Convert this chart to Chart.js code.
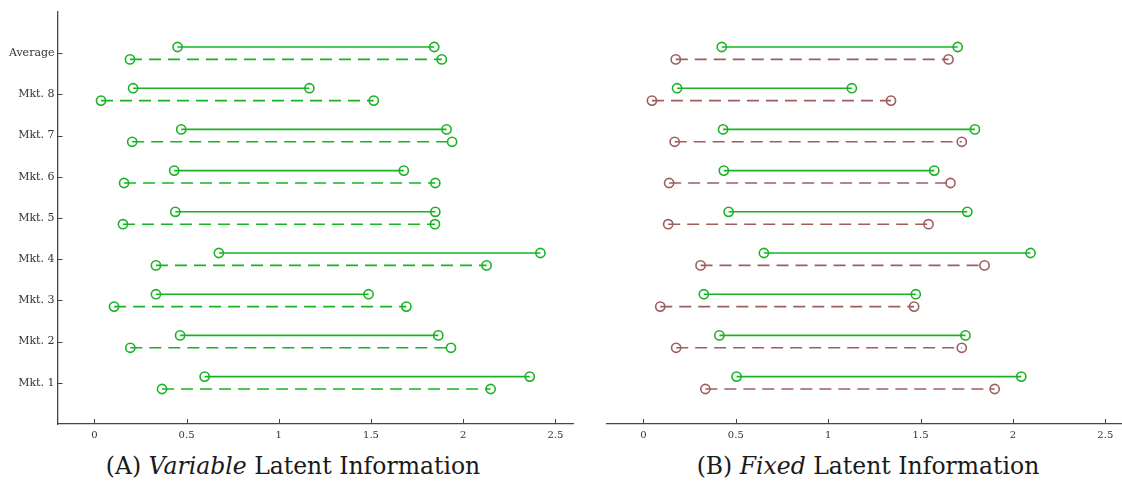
<!DOCTYPE html>
<html><head><meta charset="utf-8">
<script src="https://cdn.jsdelivr.net/npm/chart.js@4/dist/chart.umd.min.js"></script>
<style>
html,body{margin:0;padding:0;background:#fff;width:1122px;height:481px;overflow:hidden;position:relative}
#a{position:absolute;left:0;top:0}
#b{position:absolute;left:590px;top:0}
.cap{position:absolute;top:452px;font-family:"DejaVu Serif",serif;font-size:23.5px;color:#1a1a1a;text-align:center;white-space:nowrap;line-height:28px}
</style></head><body>
<canvas id="a" width="580" height="446"></canvas>
<canvas id="b" width="540" height="446"></canvas>
<div class="cap" style="left:0;width:586px">(A) <i>Variable</i> Latent Information</div>
<div class="cap" style="left:580px;width:576px">(B) <i>Fixed</i> Latent Information</div>
<script>
const categories = ['Mkt. 1','Mkt. 2','Mkt. 3','Mkt. 4','Mkt. 5','Mkt. 6','Mkt. 7','Mkt. 8','Average'];
const xTicks = [0, 0.5, 1, 1.5, 2, 2.5];
const xTickLabels = ['0', '0.5', '1', '1.5', '2', '2.5'];

// Panel A: Variable latent information
const varSolidStart = [0.598, 0.465, 0.334, 0.675, 0.439, 0.433, 0.471, 0.210, 0.451];
const varSolidEnd   = [2.361, 1.865, 1.487, 2.419, 1.849, 1.678, 1.910, 1.166, 1.843];
const varDashStart  = [0.367, 0.195, 0.107, 0.334, 0.155, 0.161, 0.205, 0.036, 0.193];
const varDashEnd    = [2.149, 1.934, 1.692, 2.127, 1.847, 1.849, 1.940, 1.515, 1.884];

// Panel B: Fixed latent information
const fixSolidStart = [0.504, 0.411, 0.327, 0.652, 0.461, 0.435, 0.431, 0.182, 0.424];
const fixSolidEnd   = [2.045, 1.743, 1.474, 2.095, 1.753, 1.574, 1.794, 1.128, 1.701];
const fixDashStart  = [0.335, 0.177, 0.091, 0.309, 0.134, 0.139, 0.169, 0.046, 0.175];
const fixDashEnd    = [1.901, 1.723, 1.465, 1.846, 1.543, 1.662, 1.723, 1.340, 1.651];

const GREEN = 'rgb(24,180,36)';
const BROWN = 'rgb(158,94,94)';
const AXIS = '#454545';

Chart.defaults.font.family = '"DejaVu Serif", serif';
Chart.defaults.font.size = 10;
Chart.defaults.color = '#333';

function dumbbells(starts, ends, offset, color, dash) {
  return categories.map((c, i) => ({
    label: c,
    data: [{x: starts[i], y: i + 1 + offset}, {x: ends[i], y: i + 1 + offset}],
    showLine: true,
    borderColor: color,
    borderWidth: 1.6,
    borderDash: dash,
    pointRadius: 4.6,
    pointBorderWidth: 1.6,
    pointBorderColor: color,
    pointBackgroundColor: 'rgba(0,0,0,0)',
    pointStyle: 'circle'
  }));
}

const insideTicks = {
  id: 'insideTicks',
  afterDraw(chart) {
    const ctx = chart.ctx, sx = chart.scales.x, sy = chart.scales.y, a = chart.chartArea;
    ctx.save();
    ctx.strokeStyle = AXIS;
    ctx.lineWidth = 1;
    ctx.setLineDash([]);
    xTicks.forEach(v => {
      const px = Math.round(sx.getPixelForValue(v)) + 0.5;
      ctx.beginPath(); ctx.moveTo(px, a.bottom); ctx.lineTo(px, a.bottom - 5); ctx.stroke();
    });
    if (chart.options.scales.y.display) {
      categories.forEach((c, i) => {
        const py = Math.round(sy.getPixelForValue(i + 1)) + 0.5;
        ctx.beginPath(); ctx.moveTo(a.left, py); ctx.lineTo(a.left + 5, py); ctx.stroke();
      });
    }
    ctx.restore();
  }
};

function makeChart(id, datasets, showY, padLeft, padRight) {
  return new Chart(document.getElementById(id), {
    type: 'scatter',
    data: {datasets},
    plugins: [insideTicks],
    options: {
      responsive: false,
      animation: false,
      layout: {padding: {top: 12, right: padRight, left: padLeft, bottom: 0}},
      plugins: {legend: {display: false}, tooltip: {enabled: false}},
      scales: {
        x: {
          type: 'linear', min: -0.2, max: 2.6,
          afterBuildTicks: s => { s.ticks = xTicks.map(v => ({value: v})); },
          afterFit: s => { s.height = 22; s.paddingLeft = 0; s.paddingRight = 0; },
          ticks: {padding: 5, font: {size: 10}, color: '#333',
                  callback: (v) => xTickLabels[xTicks.indexOf(v)]},
          grid: {display: false, drawTicks: false},
          border: {display: true, color: AXIS, width: 1.3}
        },
        y: {
          type: 'linear', min: 0, max: 10, display: showY,
          afterBuildTicks: s => { s.ticks = categories.map((c, i) => ({value: i + 1})); },
          afterFit: s => { s.width = showY ? 57.5 : 0; s.paddingTop = 0; s.paddingBottom = 0; },
          ticks: {padding: 3, font: {size: 11}, color: '#333',
                  callback: (v) => categories[v - 1]},
          grid: {display: false, drawTicks: false},
          border: {display: true, color: AXIS, width: 1.3}
        }
      }
    }
  });
}

makeChart('a', [
  ...dumbbells(varSolidStart, varSolidEnd, 0.15, GREEN, []),
  ...dumbbells(varDashStart, varDashEnd, -0.15, GREEN, [12, 7])
], true, 0, 1);

makeChart('b', [
  ...dumbbells(fixSolidStart, fixSolidEnd, 0.15, GREEN, []),
  ...dumbbells(fixDashStart, fixDashEnd, -0.15, BROWN, [12, 7])
], false, 16.5, 3);
</script>
</body></html>
